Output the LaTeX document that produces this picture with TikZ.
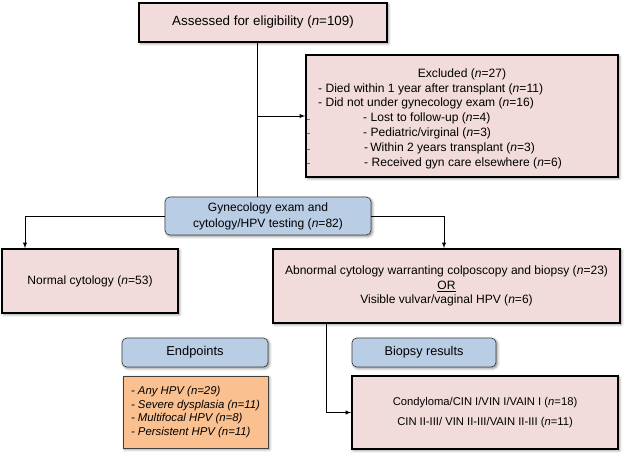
\documentclass[tikz,border=0pt]{standalone}
\usepackage{fontspec}
\setmainfont{Liberation Sans}
\usetikzlibrary{arrows, shadows.blur, positioning}
\definecolor{boxpink}{RGB}{242,220,219}
\definecolor{boxblue}{RGB}{185,205,229}
\definecolor{boxorange}{RGB}{250,192,144}
\tikzstyle{shade}=[blur shadow={shadow blur steps=4, shadow xshift=0.45mm,
    shadow yshift=-0.45mm, shadow opacity=45}]
\tikzstyle{pbox}=[draw=black, line width=1.5pt, fill=boxpink,
    align=center, shade]
\tikzstyle{bbox}=[draw=black!75, line width=0.6pt, fill=boxblue,
    align=center, rounded corners=4pt, shade]
\tikzstyle{obox}=[draw=black!75, line width=0.6pt, fill=boxorange,
    align=left, shade]
\tikzstyle{line}=[draw, line width=0.6pt]
\tikzstyle{arr}=[line, -latex]
\def\ncount#1{(\textit{n}=#1)}
\def\fs#1#2{\fontsize{#1}{#2}\selectfont}

\begin{document}
\begin{tikzpicture}[x=0.03cm, y=-0.03cm, font=\fs{10.3}{13.6}]
    \useasboundingbox (0,0) rectangle (625,456);
    % top of the flow
    \node (assess) [pbox, minimum width=7.44cm, minimum height=1.17cm, font=\fs{11.4}{14}]
        at (263,22.5) {Assessed for eligibility \ncount{109}};
    \node (excl) [pbox, minimum width=9.36cm, minimum height=3.66cm]
        at (462,116) {};
    \node (excltitle) at (462,74) {Excluded \ncount{27}};
    \foreach \x/\y/\t [count=\i] in {
        318/89/{- Died within 1 year after transplant \ncount{11}},
        318/103/{- Did not under gynecology exam \ncount{16}},
        363/118/{- Lost to follow-up \ncount{4}},
        363/133/{- Pediatric/virginal \ncount{3}},
        364/148/{-\,Within 2 years transplant \ncount{3}},
        364/163/{- Received gyn care elsewhere \ncount{6}}}
        \node (item\i) [anchor=west, inner sep=0pt] at (\x,\y) {\t};
    \foreach \y in {119,133,149,163}
        \draw[black!55, line width=0.5pt] (307,\y) -- (310,\y);
    \node (gyn) [bbox, minimum width=6.18cm, minimum height=1.14cm]
        at (268,216) {Gynecology exam and\\cytology/HPV testing \ncount{82}};
    % second row
    \node (normal) [pbox, minimum width=5.28cm, minimum height=1.92cm]
        at (90,281) {Normal cytology \ncount{53}};
    \node (abn) [pbox, minimum width=10.41cm, minimum height=2.22cm, font=\fs{10.3}{12.4}]
        at (446.5,286) {Abnormal cytology warranting colposcopy and biopsy \ncount{23}\\
        \underline{OR}\\Visible vulvar/vaginal HPV \ncount{6}};
    % bottom
    \node (endp) [bbox, minimum width=4.38cm, minimum height=0.87cm, font=\fs{11}{13}]
        at (195,352.5) {Endpoints};
    \node (biop) [bbox, minimum width=4.32cm, minimum height=0.87cm, font=\fs{10.8}{13}]
        at (424,352.5) {Biopsy results};
    \node (endlist) [obox, minimum width=4.35cm, minimum height=2.16cm, font=\fs{9.7}{11.7}]
        at (195.5,412) {\itshape - Any HPV (n=29)\\\itshape - Severe dysplasia (n=11)\\
        \itshape - Multifocal HPV (n=8)\\\itshape - Persistent HPV (n=11)};
    \node (cond) [pbox, minimum width=7.98cm, minimum height=2.19cm, font=\fs{9.6}{12}]
        at (485,412.5) {Condyloma/CIN I/VIN I/VAIN I \ncount{18}\\[5pt]
        CIN II-III/ VIN II-III/VAIN II-III \ncount{11}};
    % connectors
    \coordinate (trunk) at (257,116);
    \coordinate (lturn) at (25,216);
    \coordinate (rturn) at (444,216);
    \coordinate (bturn) at (326,412.5);
    \draw[line] (assess.south -| trunk) -- (gyn.north -| trunk);
    \draw[arr] (trunk) -- (trunk -| excl.west);
    \draw[arr] (gyn.west) -| (lturn |- normal.north);
    \draw[arr] (gyn.east) -| (rturn |- abn.north);
    \draw[arr] (abn.south -| bturn) |- (cond.west);
\end{tikzpicture}
\end{document}
